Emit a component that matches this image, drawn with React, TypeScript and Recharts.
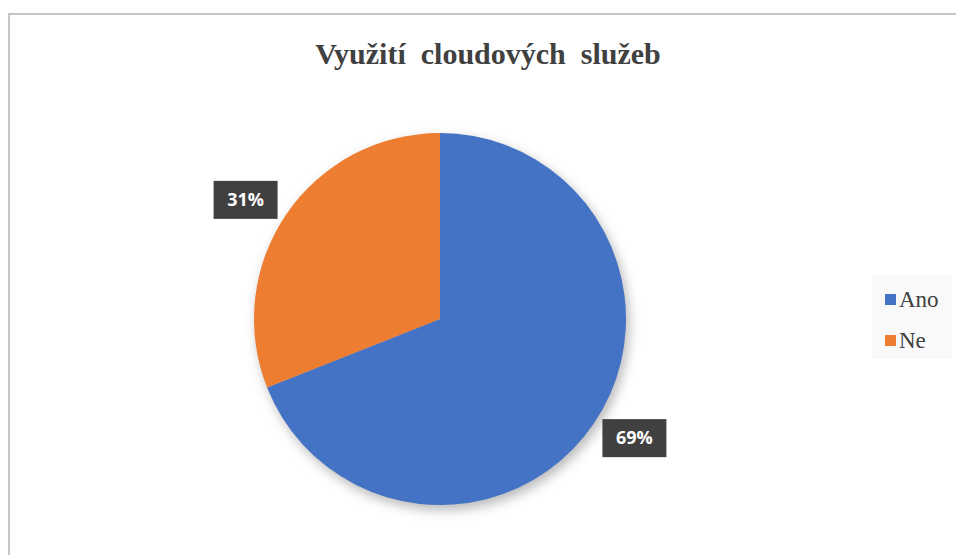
import { PieChart, Pie, Cell, Legend } from "recharts"

const categories = ["Ano", "Ne"]
const shares = [69, 31]
const colors = ["#4472C4", "#ED7D31"]

const data = categories.map((name, i) => ({ name, value: shares[i] }))

const RAD = Math.PI / 180

function renderLabel(props: any) {
  const { cx, cy, midAngle, outerRadius, percent } = props
  const r = outerRadius + 42
  const a = midAngle + 2.7
  const x = cx + r * Math.cos(-a * RAD)
  const y = cy + r * Math.sin(-a * RAD)
  return (
    <g>
      <rect x={x - 32} y={y - 19} width={64} height={38} fill="#404040" />
      <text
        x={x}
        y={y + 1}
        fill="#ffffff"
        textAnchor="middle"
        dominantBaseline="middle"
        fontFamily="'Open Sans', sans-serif"
        fontWeight={700}
        fontSize={18}
      >
        {`${Math.round(percent * 100)}%`}
      </text>
    </g>
  )
}

function LegendBox(props: any) {
  const { payload } = props
  return (
    <div style={{ background: "#f9f9f9", padding: "4px 0 0 13px", height: 84, boxSizing: "border-box" }}>
      {payload.map((item: any) => (
        <div
          key={item.value}
          style={{
            display: "flex",
            alignItems: "center",
            height: 41,
            fontFamily: "'Liberation Serif', serif",
            fontSize: 23,
            color: "#404040",
          }}
        >
          <span style={{ width: 11, height: 11, background: item.color, marginRight: 3, display: "inline-block" }} />
          {item.value}
        </div>
      ))}
    </div>
  )
}

export default function App() {
  return (
    <div style={{ position: "fixed", left: 0, top: 0, width: 956, height: 555, background: "#fff", overflow: "hidden" }}>
      <style>{`.recharts-pie { filter: drop-shadow(3px 5px 6px rgba(0,0,0,0.28)); }`}</style>
      <div
        style={{
          position: "absolute",
          left: 8,
          top: 13,
          width: 960,
          height: 560,
          borderLeft: "2px solid #c6c6c6",
          borderTop: "2px solid #c6c6c6",
        }}
      />
      <div
        style={{
          position: "absolute",
          left: 0,
          top: 37,
          width: 976,
          textAlign: "center",
          whiteSpace: "pre",
          fontFamily: "'Liberation Serif', serif",
          fontWeight: 700,
          fontSize: 30,
          color: "#404040",
        }}
      >
        {"Využití  cloudových  služeb"}
      </div>
      <div style={{ position: "absolute", left: 0, top: 0 }}>
        <PieChart width={956} height={555}>
          <Pie
            data={data}
            dataKey="value"
            nameKey="name"
            cx={435}
            cy={314}
            outerRadius={186}
            startAngle={90}
            endAngle={-270}
            stroke="none"
            label={renderLabel}
            labelLine={false}
            isAnimationActive={false}
          >
            {data.map((d, i) => (
              <Cell key={d.name} fill={colors[i]} />
            ))}
          </Pie>
          <Legend
            layout="vertical"
            align="right"
            verticalAlign="top"
            content={<LegendBox />}
            wrapperStyle={{ left: 872, top: 275, width: 80 }}
          />
        </PieChart>
      </div>
    </div>
  )
}
